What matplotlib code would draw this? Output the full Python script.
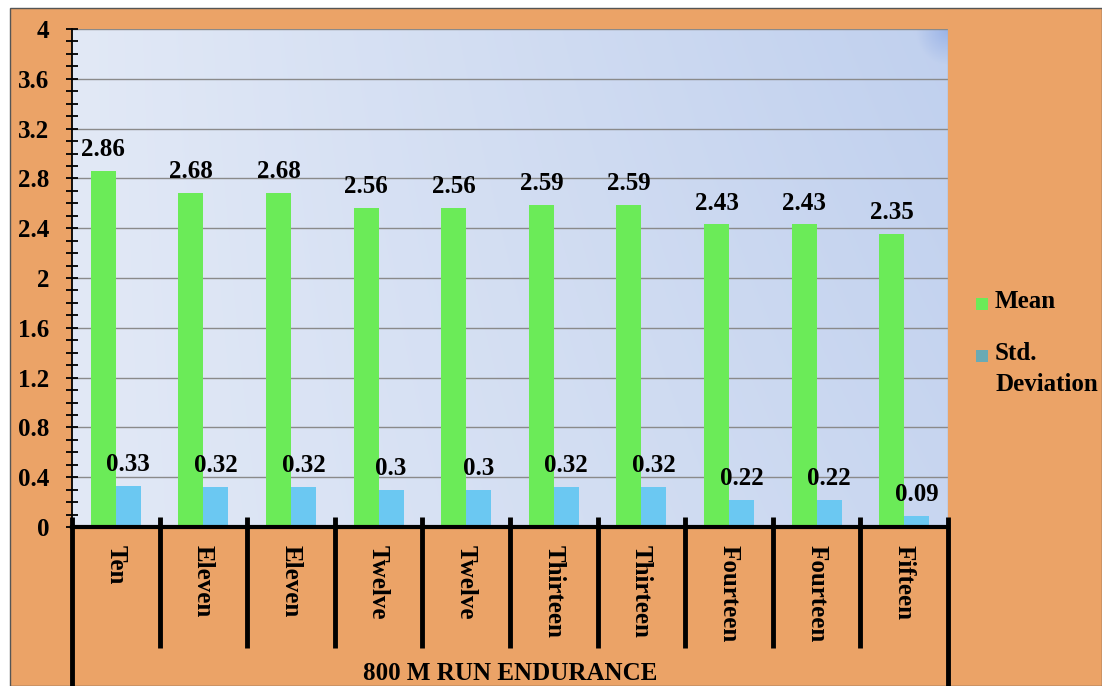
import matplotlib
matplotlib.use("Agg")
import matplotlib.pyplot as plt
import numpy as np
from matplotlib.patches import Rectangle
from matplotlib.transforms import blended_transform_factory

categories = ["Ten", "Eleven", "Eleven", "Twelve", "Twelve", "Thirteen", "Thirteen",
              "Fourteen", "Fourteen", "Fifteen"]
mean_vals = [2.86, 2.68, 2.68, 2.56, 2.56, 2.59, 2.59, 2.43, 2.43, 2.35]
std_vals = [0.33, 0.32, 0.32, 0.30, 0.30, 0.32, 0.32, 0.22, 0.22, 0.09]
mean_labels = ["2.86", "2.68", "2.68", "2.56", "2.56", "2.59", "2.59", "2.43", "2.43", "2.35"]
std_labels = ["0.33", "0.32", "0.32", "0.3", "0.3", "0.32", "0.32", "0.22", "0.22", "0.09"]
y_ticks = [0, 0.4, 0.8, 1.2, 1.6, 2, 2.4, 2.8, 3.2, 3.6, 4]
y_tick_labels = ["0", "0.4", "0.8", "1.2", "1.6", "2", "2.4", "2.8", "3.2", "3.6", "4"]
axis_title = "800 M RUN ENDURANCE"
series_names = ["Mean", "Std.\nDeviation"]

ORANGE = "#EBA367"
GREEN = "#6BEB58"
BLUE = "#6BC8F2"
LEG_BLUE = "#6AAAB4"
SERIF = ["Liberation Serif", "DejaVu Serif"]
FS = 18

W, H = 1102, 686
fig = plt.figure(figsize=(W / 100, H / 100), dpi=100, facecolor="white")

# orange frame background
fig.patches.append(Rectangle((10 / W, 0), 1 - 10 / W, 1 - 8 / H, transform=fig.transFigure,
                             facecolor=ORANGE, edgecolor="#555555", linewidth=1.0, zorder=-10))

L, R, T, B = 72, 948, 29, 527
ax = fig.add_axes([L / W, 1 - B / H, (R - L) / W, (B - T) / H])
ax.set_facecolor("none")

# gradient background
nx, ny = 600, 300
gx = np.linspace(0, 1, nx)[None, :]
gy = np.linspace(0, 1, ny)[:, None]  # 0 top, 1 bottom
c_left = np.array([226, 233, 246]) / 255
c_right = np.array([192, 208, 238]) / 255
t = np.clip(0.75 * gx + 0.25 * (1 - gy) * gx, 0, 1)
img = c_left[None, None, :] * (1 - t[..., None]) + c_right[None, None, :] * t[..., None]
d = np.sqrt(((1 - gx) * 28) ** 2 + (gy * 14) ** 2)
corner = np.clip(1 - d, 0, 1)[..., None]
img = img * (1 - corner * 0.7) + np.array([140, 168, 228])[None, None, :] / 255 * corner * 0.7
ax.imshow(img, extent=[0, 1, 0, 1], transform=ax.transAxes, aspect="auto", zorder=0)
ax.plot([1, 1], [0, 1], transform=ax.transAxes, color="#a8a8a8", linewidth=1.0, zorder=2)

x = np.arange(len(categories))
bw = 0.285
ax.bar(x - bw / 2, mean_vals, bw, color=GREEN, zorder=3)
ax.bar(x + bw / 2, std_vals, bw, color=BLUE, zorder=3)

for xi, v, lab in zip(x, mean_vals, mean_labels):
    ax.text(xi - bw / 2, v + 0.08, lab, ha="center", va="bottom", fontsize=FS,
            fontweight="bold", family=SERIF, zorder=4)
for xi, v, lab in zip(x, std_vals, std_labels):
    ax.text(xi + bw / 2, v + 0.08, lab, ha="center", va="bottom", fontsize=FS,
            fontweight="bold", family=SERIF, zorder=4)

ax.set_xlim(-0.5, len(categories) - 0.5)
ax.set_ylim(0, 4)
ax.set_yticks(y_ticks)
ax.set_yticklabels(y_tick_labels, fontsize=FS, fontweight="bold", family=SERIF)
ax.set_yticks(np.arange(0, 4.01, 0.1), minor=True)
ax.tick_params(axis="y", which="both", direction="inout", length=9, width=1.3, pad=12,
               color="black")
ax.grid(axis="y", which="major", color="#8a8a8a", linewidth=1.0, zorder=1)
ax.set_axisbelow(True)

ax.set_xticks(x)
ax.set_xticklabels([])
ax.tick_params(axis="x", direction="in", length=5, width=3, color="black")

for s in ["top", "right"]:
    ax.spines[s].set_visible(False)
ax.spines["left"].set_linewidth(1.3)
ax.spines["bottom"].set_linewidth(3)
ax.spines["bottom"].set_zorder(5)

tr = blended_transform_factory(ax.transData, ax.transAxes)
hpx = B - T
div_bottom = -(648 - B) / hpx
fig_bottom = -(H - B) / hpx
for i in range(len(categories) + 1):
    xb = i - 0.5
    yb = fig_bottom if i in (0, len(categories)) else div_bottom
    ax.plot([xb, xb], [0.02, yb], transform=tr, color="black", linewidth=3.5,
            clip_on=False, solid_capstyle="butt", zorder=6)

for xi, lab in zip(x, categories):
    ax.text(xi, -(545 - B) / hpx, lab, transform=tr, rotation=-90, ha="center", va="top",
            fontsize=FS, fontweight="bold", family=SERIF)

ax.text(0.5, -(673 - B) / hpx, axis_title, transform=ax.transAxes, ha="center", va="center",
        fontsize=FS, fontweight="bold", family=SERIF)

# legend
fig.patches.append(Rectangle((976 / W, 1 - 310 / H), 12 / W, 12 / H, transform=fig.transFigure,
                             facecolor=GREEN, edgecolor="none"))
fig.text(995 / W, 1 - 302 / H, series_names[0], ha="left", va="center", fontsize=FS,
         fontweight="bold", family=SERIF)
fig.patches.append(Rectangle((976 / W, 1 - 362 / H), 12 / W, 12 / H, transform=fig.transFigure,
                             facecolor=LEG_BLUE, edgecolor="none"))
fig.text(995 / W, 1 - 342 / H, series_names[1], ha="left", va="top", fontsize=FS,
         fontweight="bold", family=SERIF, linespacing=1.45)

fig.savefig("out.png", dpi=100, facecolor="white")
